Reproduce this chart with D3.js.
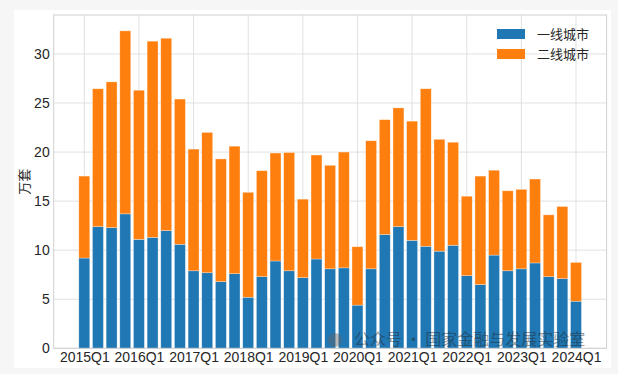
<!DOCTYPE html>
<html lang="zh">
<head>
<meta charset="utf-8">
<script src="https://d3js.org/d3.v7.min.js"></script>
<style>
  body { margin: 0; background: #f6f6f6; }
  svg { display: block; }
  text { font-family: "Liberation Sans", Arial, "Noto Sans CJK SC", sans-serif; fill: #262626; }
  .cjk { font-family: "Noto Sans CJK SC", sans-serif; }
</style>
</head>
<body>
<svg id="chart" width="618" height="374"></svg>
<script>
// quarters 2015Q1 .. 2024Q1
const quarters = [
  "2015Q1","2015Q2","2015Q3","2015Q4","2016Q1","2016Q2","2016Q3","2016Q4",
  "2017Q1","2017Q2","2017Q3","2017Q4","2018Q1","2018Q2","2018Q3","2018Q4",
  "2019Q1","2019Q2","2019Q3","2019Q4","2020Q1","2020Q2","2020Q3","2020Q4",
  "2021Q1","2021Q2","2021Q3","2021Q4","2022Q1","2022Q2","2022Q3","2022Q4",
  "2023Q1","2023Q2","2023Q3","2023Q4","2024Q1"
]
// 一线城市 (万套)
const tier1 = [
  9.2, 12.4, 12.3, 13.7, 11.1, 11.3, 12.0, 10.6,
  7.9, 7.7, 6.8, 7.6, 5.2, 7.3, 8.9, 7.9,
  7.2, 9.1, 8.1, 8.2, 4.4, 8.1, 11.6, 12.4,
  11.0, 10.4, 9.9, 10.5, 7.4, 6.5, 9.5, 7.9,
  8.1, 8.7, 7.3, 7.1, 4.8
]
// 二线城市 (万套)
const tier2 = [
  8.35, 14.05, 14.85, 18.65, 15.2, 20.0, 19.6, 14.8,
  12.4, 14.3, 12.5, 13.0, 10.7, 10.8, 11.0, 12.05,
  8.0, 10.6, 10.55, 11.8, 5.95, 13.05, 11.7, 12.1,
  12.15, 16.05, 11.4, 10.5, 8.1, 11.05, 8.65, 8.15,
  8.1, 8.55, 6.3, 7.35, 3.95
]
const yTicks = [0, 5, 10, 15, 20, 25, 30]
const xTickIdx = [0, 4, 8, 12, 16, 20, 24, 28, 32, 36]
const seriesNames = ["一线城市", "二线城市"]
const colors = ["#1f77b4", "#ff7f0e"]

const svg = d3.select("#chart")

// white card
svg.append("rect").attr("x", 14).attr("y", 10).attr("width", 597).attr("height", 358).attr("fill", "#fff")

const plotLeft = 53.7, plotRight = 606.6, plotTop = 15, plotBottom = 348.3
const totals = tier1.map((d, i) => d + tier2[i])
const n = quarters.length
const pad = (n - 1 + 0.8) * 0.05
const x = d3.scaleLinear().domain([-0.4 - pad, n - 1 + 0.4 + pad]).range([plotLeft, plotRight])
const y = d3.scaleLinear().domain([0, d3.max(totals) * 1.05]).range([plotBottom, plotTop])
const bw = x(0.8) - x(0)

// grid
const grid = svg.append("g")
grid.selectAll(".hg").data(yTicks).enter().append("line")
  .attr("x1", plotLeft).attr("x2", plotRight).attr("y1", d => y(d)).attr("y2", d => y(d))
  .attr("stroke", "#dedede").attr("stroke-width", 0.9)
grid.selectAll(".vg").data(xTickIdx).enter().append("line")
  .attr("y1", plotTop).attr("y2", plotBottom).attr("x1", d => x(d)).attr("x2", d => x(d))
  .attr("stroke", "#dedede").attr("stroke-width", 0.9)

// stacked bars
const stack = d3.stack().keys([0, 1]).value((d, k) => d[k])
const layers = stack(quarters.map((q, i) => [tier1[i], tier2[i]]))
svg.selectAll(".layer").data(layers).enter().append("g")
  .attr("fill", (d, i) => colors[i])
  .selectAll("rect").data(d => d).enter().append("rect")
  .attr("x", (d, i) => x(i) - bw / 2)
  .attr("width", bw)
  .attr("y", d => y(d[1]))
  .attr("height", d => y(d[0]) - y(d[1]))
  .attr("stroke", "#fff").attr("stroke-opacity", 0.5).attr("stroke-width", 0.6)

// frame
svg.append("rect").attr("x", plotLeft).attr("y", plotTop)
  .attr("width", plotRight - plotLeft).attr("height", plotBottom - plotTop)
  .attr("fill", "none").attr("stroke", "#d0d0d0").attr("stroke-width", 1)

// y axis
const yAxis = svg.append("g").attr("transform", `translate(${plotLeft},0)`)
  .call(d3.axisLeft(y).tickValues(yTicks).tickSize(0).tickPadding(4))
yAxis.select(".domain").remove()
yAxis.selectAll("text").attr("font-size", 14).attr("fill", "#262626")
  .style("font-family", "'Liberation Sans', Arial, sans-serif")

// x axis
const xAxis = svg.append("g").attr("transform", `translate(0,${plotBottom})`)
  .call(d3.axisBottom(x).tickValues(xTickIdx).tickFormat(i => quarters[i]).tickSize(0).tickPadding(4))
xAxis.select(".domain").remove()
xAxis.selectAll("text").attr("font-size", 14).attr("fill", "#262626")
  .style("font-family", "'Liberation Sans', Arial, sans-serif")

// y label
svg.append("text").attr("class", "cjk")
  .attr("transform", `translate(29,${(plotTop + plotBottom) / 2}) rotate(-90)`)
  .attr("text-anchor", "middle").attr("font-size", 13).attr("fill", "#333")
  .text("万套")

// legend
const legend = svg.append("g").attr("transform", "translate(497,29)")
seriesNames.forEach((name, i) => {
  legend.append("rect").attr("x", 0).attr("y", i * 20).attr("width", 28).attr("height", 10).attr("fill", colors[i])
  legend.append("text").attr("class", "cjk").attr("x", 40).attr("y", i * 20 + 10)
    .attr("font-size", 13).attr("fill", "#333").text(name)
})

// watermark
const wm = svg.append("g").attr("opacity", 0.45)
wm.append("circle").attr("cx", 335).attr("cy", 340).attr("r", 7).attr("fill", "#666")
wm.append("text").attr("class", "cjk").attr("x", 354).attr("y", 345)
  .attr("font-size", 16).attr("fill", "#666").text("公众号 · 国家金融与发展实验室")
</script>
</body>
</html>
